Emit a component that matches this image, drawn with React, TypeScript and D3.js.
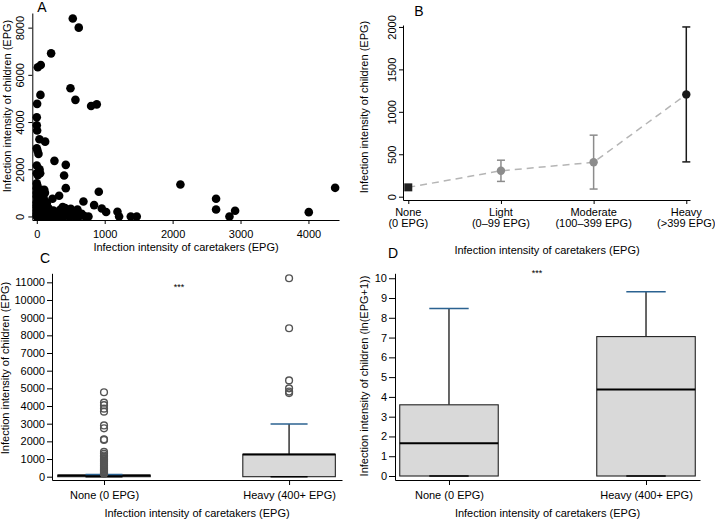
import React, { useEffect, useRef } from "react";
import * as d3 from "d3";

const FONT = "'Liberation Sans', Arial, Helvetica, sans-serif";

// Panel A: caretaker EPG (x) vs child EPG (y)
const scatterPoints: [number, number][] = [
  [530, 8390], [618, 8000], [211, 6910], [15, 6320], [59, 6420], [54, 5150],
  [5, 4770], [496, 5430], [569, 4940], [800, 4680], [883, 4750], [0, 4200],
  [0, 3860], [5, 3640], [39, 3270], [123, 3170], [0, 2890], [10, 2790],
  [25, 2650], [260, 2355], [427, 2186], [0, 2160], [40, 2000], [50, 1830],
  [0, 1830], [15, 1750], [402, 1735], [427, 1200], [231, 750], [329, 875],
  [913, 1044], [687, 635], [844, 481], [957, 340], [1021, 190], [1188, 200],
  [1212, 0], [1384, 0], [1472, 0], [761, 0], [2115, 1354], [2640, 748],
  [2640, 296], [2920, 240], [2837, 0], [4005, 183], [4393, 1213],
  // dense cluster near origin
  [0, 1400], [10, 1300], [0, 1200], [20, 1150], [50, 1100], [80, 1120], [110, 1130],
  [0, 1000], [30, 980], [60, 950], [90, 900], [120, 1000], [0, 850], [25, 800],
  [55, 760], [100, 780], [10, 700], [40, 650], [75, 620], [0, 600], [110, 600],
  [20, 550], [60, 500], [0, 480], [90, 450], [130, 430], [30, 400], [0, 380],
  [70, 350], [110, 320], [150, 300], [20, 300], [50, 260], [0, 250], [90, 230],
  [130, 200], [170, 180], [30, 180], [60, 150], [0, 140], [100, 120], [200, 110],
  [230, 90], [140, 80], [40, 70], [80, 60], [0, 40], [20, 20], [60, 10], [110, 30],
  [160, 20], [0, 0], [50, 0], [100, 0], [150, 0], [74, 776], [123, 635], [147, 564],
  [88, 494], [172, 353], [245, 254], [319, 141], [442, 183], [515, 99], [589, 141],
  [663, 70], [417, 353], [500, 324], [599, 296], [344, 282], [381, 397], [440, 283],
  [553, 169], [611, 114], [538, 72], [661, 114], [317, 72], [293, 178],
  [210, 0], [270, 0], [330, 0], [400, 0], [480, 0], [560, 0], [620, 0], [700, 20],
];

// Panel B: mean child EPG by caretaker intensity class, with 95% CI
const intensityCats = ["None", "Light", "Moderate", "Heavy"];
const intensityRanges = ["(0 EPG)", "(0\u201399 EPG)", "(100\u2013399 EPG)", "(>399 EPG)"];
const meanEpg = [110, 305, 405, 1205];
const ciLow = [110, 180, 90, 410];
const ciHigh = [110, 430, 725, 2000];

// Panels C & D: box plots
const boxGroups = ["None (0 EPG)", "Heavy (400+ EPG)"];
// [lowWhisker, q1, median, q3, highWhisker]
const rawStats = [
  [0, 0, 70, 90, 130],
  [0, 0, 1250, 1270, 2980],
];
const rawOutliers = [
  [4780, 4190, 4050, 3850, 3680, 2900, 2740, 2120, 2080, 1400, 1300, 1200, 1130,
    1050, 980, 900, 850, 780, 720, 650, 600, 540, 480, 420, 380, 330, 280, 240, 200, 160],
  [11230, 8400, 5450, 5000, 4820, 4730],
];
const logStats = [
  [0, 0, 1.65, 3.6, 8.47],
  [0, 0, 4.38, 7.05, 9.32],
];

const BLUE = "#2b6291";

function styleAxis(g: any) {
  g.attr("font-family", FONT).attr("font-size", 11);
  g.selectAll("text").attr("fill", "#000");
  g.selectAll("line").attr("stroke", "#000");
  g.selectAll("path").attr("stroke", "#000");
}

function addText(svg: any, txt: string, x: number, y: number, opts: any = {}) {
  const t = svg.append("text")
    .attr("x", x).attr("y", y)
    .attr("font-family", FONT)
    .attr("font-size", opts.size || 11)
    .attr("text-anchor", opts.anchor || "middle")
    .attr("fill", opts.fill || "#000")
    .text(txt);
  if (opts.rotate) t.attr("transform", `rotate(-90,${x},${y})`);
  return t;
}

function drawBoxes(svg: any, x: any, y: any, stats: number[][], outliers: number[][] | null) {
  const half = (x(1) - x(0)) * 0.25;
  const cap = (x(1) - x(0)) * 0.1;
  stats.forEach((s, i) => {
    const [lo, q1, med, q3, hi] = s;
    const cx = x(i);
    svg.append("line").attr("x1", cx).attr("x2", cx)
      .attr("y1", y(q3)).attr("y2", y(hi)).attr("stroke", "#000").attr("stroke-width", 1.2);
    svg.append("rect").attr("x", cx - half).attr("width", half * 2)
      .attr("y", y(q3)).attr("height", Math.max(0.5, y(q1) - y(q3)))
      .attr("fill", "#d9d9d9").attr("stroke", "#222").attr("stroke-width", 1.1);
    svg.append("line").attr("x1", cx - half).attr("x2", cx + half)
      .attr("y1", y(med)).attr("y2", y(med)).attr("stroke", "#000").attr("stroke-width", 2);
    svg.append("line").attr("x1", cx - cap).attr("x2", cx + cap)
      .attr("y1", y(hi)).attr("y2", y(hi)).attr("stroke", BLUE).attr("stroke-width", 1.5);
    svg.append("line").attr("x1", cx - cap).attr("x2", cx + cap)
      .attr("y1", y(lo)).attr("y2", y(lo)).attr("stroke", "#000").attr("stroke-width", 1.5);
    if (outliers) {
      svg.selectAll(null).data(outliers[i]).enter().append("circle")
        .attr("cx", cx).attr("cy", (d: number) => y(d)).attr("r", 3.4)
        .attr("fill", "none").attr("stroke", "#555").attr("stroke-width", 1.4);
    }
  });
}

const App = () => {
  const svgRef = useRef<SVGSVGElement>(null);

  useEffect(() => {
    const svg = d3.select(svgRef.current);
    svg.selectAll("*").remove();

    // ---------- Panel A ----------
    const xA = d3.scaleLinear().domain([-66, 4450]).range([32.3, 339]);
    const yA = d3.scaleLinear().domain([-150, 8620]).range([220, 13]);
    svg.append("g").selectAll("circle").data(scatterPoints).enter().append("circle")
      .attr("cx", (d) => xA(d[0])).attr("cy", (d) => yA(d[1])).attr("r", 4.3).attr("fill", "#000");
    const gxA = svg.append("g").attr("transform", "translate(0,220)")
      .call(d3.axisBottom(xA).tickValues([0, 1000, 2000, 3000, 4000]).tickSize(4).tickSizeOuter(0).tickPadding(6).tickFormat(d3.format("d")));
    styleAxis(gxA);
    const gyA = svg.append("g").attr("transform", "translate(32.3,0)")
      .call(d3.axisLeft(yA).tickValues([0, 2000, 4000, 6000, 8000]).tickSize(4).tickSizeOuter(0).tickFormat(d3.format("d")));
    styleAxis(gyA);
    gyA.selectAll("text").attr("x", 0).attr("y", -8).attr("dy", 0)
      .attr("text-anchor", "middle").attr("transform", "rotate(-90)");
    addText(svg, "Infection intensity of caretakers (EPG)", 186, 250.5);
    addText(svg, "Infection intensity of children (EPG)", 11, 106, { rotate: true });
    addText(svg, "A", 42, 12, { size: 14 });

    // ---------- Panel B ----------
    const xB = d3.scaleLinear().domain([-0.057, 3.04]).range([403, 690]);
    const yB = d3.scaleLinear().domain([-39, 2023]).range([200, 25]);
    const line = d3.line<number>().x((d, i) => xB(i)).y((d) => yB(d));
    svg.append("path").attr("d", line(meanEpg)).attr("fill", "none")
      .attr("stroke", "#b5b5b5").attr("stroke-width", 1.5).attr("stroke-dasharray", "7,5");
    const colB = ["#222", "#8c8c8c", "#8c8c8c", "#1a1a1a"];
    meanEpg.forEach((m, i) => {
      const cx = xB(i);
      if (i > 0) {
        svg.append("line").attr("x1", cx).attr("x2", cx).attr("y1", yB(ciLow[i])).attr("y2", yB(ciHigh[i]))
          .attr("stroke", colB[i]).attr("stroke-width", 1.5);
        [ciLow[i], ciHigh[i]].forEach((v) => {
          svg.append("line").attr("x1", cx - 4).attr("x2", cx + 4).attr("y1", yB(v)).attr("y2", yB(v))
            .attr("stroke", colB[i]).attr("stroke-width", 1.5);
        });
        svg.append("circle").attr("cx", cx).attr("cy", yB(m)).attr("r", 4.2).attr("fill", colB[i]);
      } else {
        svg.append("rect").attr("x", cx - 4).attr("y", yB(m) - 4).attr("width", 8).attr("height", 8).attr("fill", colB[i]);
      }
    });
    const gxB = svg.append("g").attr("transform", "translate(0,200)")
      .call(d3.axisBottom(xB).tickValues([0, 1, 2, 3]).tickSize(4).tickSizeOuter(0).tickFormat(() => ""));
    styleAxis(gxB);
    intensityCats.forEach((c, i) => {
      addText(svg, c, xB(i), 216);
      addText(svg, intensityRanges[i], xB(i), 226.5);
    });
    const gyB = svg.append("g").attr("transform", "translate(403,0)")
      .call(d3.axisLeft(yB).tickValues([0, 500, 1000, 1500, 2000]).tickSize(4).tickSizeOuter(0).tickFormat(d3.format("d")));
    styleAxis(gyB);
    gyB.selectAll("text").attr("x", 0).attr("y", -7).attr("dy", 0)
      .attr("text-anchor", "middle").attr("transform", "rotate(-90)");
    addText(svg, "Infection intensity of caretakers (EPG)", 547, 254);
    addText(svg, "Infection intensity of children (EPG)", 368, 107, { rotate: true });
    addText(svg, "B", 419, 15.7, { size: 14 });

    // ---------- Panel C ----------
    const xC = d3.scaleLinear().domain([-0.281, 1.286]).range([52, 342]);
    const yC = d3.scaleLinear().domain([-187, 11511]).range([480, 273.3]);
    drawBoxes(svg, xC, yC, rawStats, rawOutliers);
    const gxC = svg.append("g").attr("transform", "translate(0,480)")
      .call(d3.axisBottom(xC).tickValues([0, 1]).tickSize(5).tickSizeOuter(0).tickPadding(6).tickFormat((d: any) => boxGroups[d]));
    styleAxis(gxC);
    const gyC = svg.append("g").attr("transform", "translate(52,0)")
      .call(d3.axisLeft(yC).tickValues(d3.range(0, 11001, 1000)).tickSize(5).tickSizeOuter(0).tickPadding(2).tickFormat(d3.format("d")));
    styleAxis(gyC);
    addText(svg, "***", 179, 290, { size: 9 });
    addText(svg, "Infection intensity of caretakers (EPG)", 197, 516.5);
    addText(svg, "Infection intensity of children (EPG)", 8.5, 368, { rotate: true });
    addText(svg, "C", 45, 262.7, { size: 14 });

    // ---------- Panel D ----------
    const xD = d3.scaleLinear().domain([-0.274, 1.274]).range([395, 700]);
    const yD = d3.scaleLinear().domain([-0.202, 10.25]).range([480, 273.3]);
    drawBoxes(svg, xD, yD, logStats, null);
    const gxD = svg.append("g").attr("transform", "translate(0,480)")
      .call(d3.axisBottom(xD).tickValues([0, 1]).tickSize(5).tickSizeOuter(0).tickPadding(6).tickFormat((d: any) => boxGroups[d]));
    styleAxis(gxD);
    const gyD = svg.append("g").attr("transform", "translate(395,0)")
      .call(d3.axisLeft(yD).tickValues(d3.range(0, 11, 1)).tickSize(6).tickSizeOuter(0).tickPadding(2).tickFormat(d3.format("d")));
    styleAxis(gyD);
    addText(svg, "***", 537, 276, { size: 9 });
    addText(svg, "Infection intensity of caretakers (EPG)", 547.5, 516.5);
    addText(svg, "Infection intensity of children (ln(EPG+1))", 368, 376, { rotate: true });
    addText(svg, "D", 393, 257.7, { size: 14 });
  }, []);

  return (
    <svg ref={svgRef} width={715} height={520}
      style={{ position: "absolute", left: 0, top: 0, background: "#fff" }} />
  );
};

export default App;
